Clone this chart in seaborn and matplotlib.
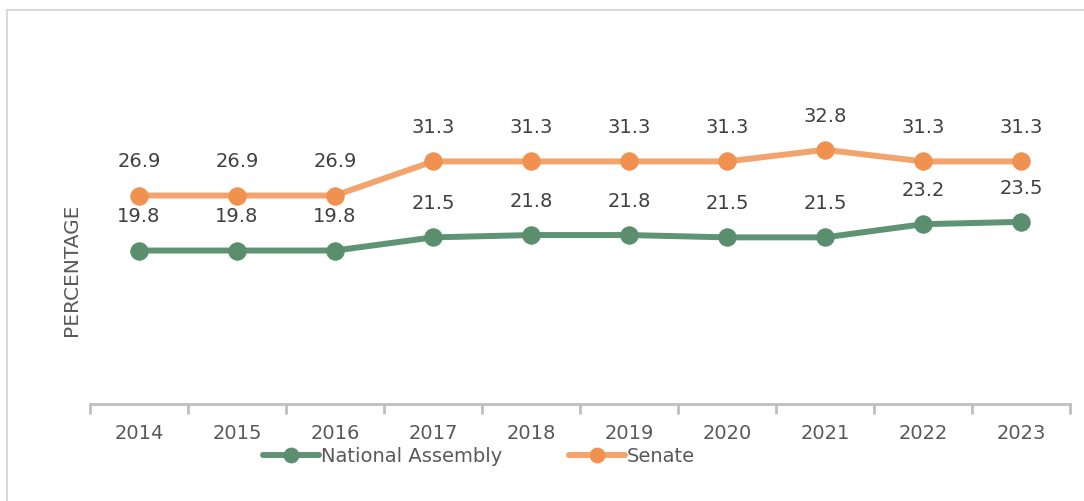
import matplotlib
matplotlib.use("Agg")
import matplotlib.pyplot as plt
import seaborn as sns
import pandas as pd
import numpy as np
from matplotlib.patches import Rectangle

years = ["2014", "2015", "2016", "2017", "2018", "2019", "2020", "2021", "2022", "2023"]
national_assembly = [19.8, 19.8, 19.8, 21.5, 21.8, 21.8, 21.5, 21.5, 23.2, 23.5]
senate = [26.9, 26.9, 26.9, 31.3, 31.3, 31.3, 31.3, 32.8, 31.3, 31.3]

sns.set_theme(style="white")
plt.rcParams['font.family'] = ['DejaVu Sans']

W, H = 1084, 502
fig = plt.figure(figsize=(W / 100, H / 100), dpi=100)
ax = fig.add_axes([90 / W, (H - 405) / H, (1070 - 90) / W, (405 - 95) / H])

df = pd.DataFrame({
    "Year": years * 2,
    "Value": national_assembly + senate,
    "Series": ["National Assembly"] * len(years) + ["Senate"] * len(years),
})
df["x"] = list(range(len(years))) * 2

green_line, green_mk = "#5E9373", "#5A8E6D"
orange_line, orange_mk = "#F3A46C", "#F0914F"

for name, lc, mc in [("National Assembly", green_line, green_mk), ("Senate", orange_line, orange_mk)]:
    sub = df[df.Series == name]
    sns.lineplot(data=sub, x="x", y="Value", ax=ax, color=lc, linewidth=4.3,
                 marker="o", markersize=12.5, markerfacecolor=mc, markeredgecolor=mc,
                 label=name, legend=False)
    for xv, yv in zip(sub["x"], sub["Value"]):
        ax.annotate(f"{yv:.1f}", (xv, yv), xytext=(0, 25), textcoords="offset points",
                    ha="center", va="center", fontsize=14, color="#404040")

ax.set_xlim(-0.5, 9.5)
ax.set_ylim(0, 40)
ax.set_yticks([])
ax.set_xticks(range(len(years)))
ax.set_xticklabels(years, fontsize=14, color="#595959")
ax.tick_params(axis="x", which="major", length=0, pad=14)
ax.set_xticks(np.arange(-0.5, 10, 1), minor=True)
ax.tick_params(axis="x", which="minor", bottom=True, length=7, width=2,
               color="#BFBFBF", direction="out")
for s in ["top", "right", "left"]:
    ax.spines[s].set_visible(False)
ax.spines["bottom"].set_color("#BFBFBF")
ax.spines["bottom"].set_linewidth(2)
ax.set_xlabel("")
ax.set_ylabel("PERCENTAGE", fontsize=14.5, color="#595959")
ax.yaxis.set_label_coords((81 - 90) / (1070 - 90), 0.435)

handles, labels = ax.get_legend_handles_labels()
leg = fig.legend(handles, labels, loc="center", bbox_to_anchor=(479 / W, 1 - 457 / H),
                 ncol=2, frameon=False, fontsize=14, handlelength=2.9, handletextpad=0.1,
                 columnspacing=3.4, labelcolor="#595959", markerscale=0.85)

fig.patches.append(Rectangle((7 / W, -0.1), 1.2, (H - 11) / H + 0.1, transform=fig.transFigure,
                             fill=False, edgecolor="#D9D9D9", linewidth=1.5))

fig.savefig("out.png", dpi=100, facecolor="white")
